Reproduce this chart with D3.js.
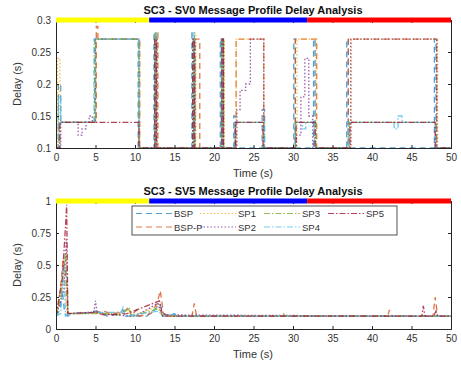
<!DOCTYPE html>
<html>
<head>
<meta charset="utf-8">
<script src="https://cdn.jsdelivr.net/npm/d3@7"></script>
<style>
  body { margin: 0; background: #fff; }
  text { font-family: "Liberation Sans", Arial, sans-serif; }
</style>
</head>
<body>
<div id="chart"></div>
<script>
// ---- data ----
const seriesNames = ['BSP', 'BSP-P', 'SP1', 'SP2', 'SP3', 'SP4', 'SP5']
const xTicks = [0, 5, 10, 15, 20, 25, 30, 35, 40, 45, 50]
const yTicksTop = [0.1, 0.15, 0.2, 0.25, 0.3]
const yTicksBottom = [0, 0.25, 0.5, 0.75, 1]
const phaseBreaks = [0, 11.8, 31.8, 50]

// SV0 (step series, [time, delay])
const sv0BSP = [[0,0.1],[0.3,0.2],[0.6,0.14],[4.9,0.27],[10.4,0.1],[12.4,0.28],[12.6,0.1],[17.2,0.28],[17.5,0.1],[20.8,0.27],[21.0,0.1],[22.5,0.15],[22.7,0.1],[26.1,0.16],[26.4,0.1],[30.1,0.27],[30.3,0.1],[32.6,0.27],[32.8,0.1],[36.8,0.27],[37.0,0.1],[47.9,0.27],[48.1,0.1],[50,0.1]]
const sv0BSPP = [[0,0.1],[0.4,0.14],[5.1,0.29],[5.3,0.27],[10.6,0.1],[12.7,0.28],[12.9,0.1],[17.6,0.27],[18.2,0.1],[21.0,0.27],[21.2,0.1],[22.8,0.27],[26.3,0.1],[30.3,0.27],[33.0,0.1],[37.0,0.27],[48.2,0.1],[50,0.1]]
const sv0SP1 = [[0,0.1],[0.2,0.24],[0.5,0.14],[5.0,0.27],[10.6,0.1],[12.6,0.28],[12.8,0.1],[17.5,0.28],[17.7,0.1],[21.1,0.27],[21.3,0.1],[22.8,0.27],[26.3,0.1],[30.5,0.27],[32.9,0.1],[37.4,0.27],[48.3,0.1],[50,0.1]]
const sv0SP2 = [[0,0.1],[0.6,0.14],[2.8,0.12],[3.3,0.13],[3.8,0.14],[4.2,0.15],[4.6,0.14],[5.0,0.27],[10.5,0.1],[12.6,0.27],[12.8,0.1],[17.4,0.27],[17.6,0.1],[21.0,0.27],[21.2,0.1],[22.9,0.16],[23.3,0.19],[24.0,0.2],[24.6,0.27],[26.3,0.1],[30.4,0.12],[31.0,0.18],[31.5,0.24],[32.0,0.15],[32.5,0.1],[37.3,0.27],[48.2,0.1],[50,0.1]]
const sv0SP3 = [[0,0.1],[0.4,0.14],[5.0,0.27],[10.5,0.1],[12.5,0.28],[12.7,0.1],[17.4,0.27],[17.6,0.1],[21.0,0.27],[21.2,0.1],[22.7,0.14],[26.3,0.1],[30.3,0.14],[32.9,0.1],[37.1,0.14],[48.1,0.1],[50,0.1]]
const sv0SP4 = [[0,0.1],[0.3,0.18],[0.6,0.14],[4.8,0.27],[10.5,0.1],[12.5,0.28],[12.7,0.1],[17.3,0.28],[17.5,0.1],[20.9,0.27],[21.1,0.1],[22.6,0.14],[26.2,0.14],[26.4,0.1],[30.3,0.14],[31.2,0.13],[31.6,0.14],[32.7,0.1],[37.0,0.14],[42.8,0.13],[43.3,0.15],[43.8,0.14],[48.0,0.1],[50,0.1]]
const sv0SP5 = [[0,0.1],[0.5,0.14],[10.5,0.1],[12.5,0.27],[12.7,0.1],[17.3,0.27],[17.5,0.1],[21.0,0.27],[21.2,0.1],[22.7,0.14],[26.2,0.1],[30.4,0.14],[32.8,0.1],[37.2,0.14],[48.0,0.1],[50,0.1]]

// SV5 ([time, delay])
const sv5BSP = [[0,0.1],[0.5,0.15],[0.8,0.3],[1.1,0.12],[1.5,0.1],[2,0.12],[4,0.13],[5,0.14],[6,0.12],[6.5,0.1],[8,0.12],[8.5,0.15],[8.8,0.1],[11.5,0.1],[12.5,0.15],[13.1,0.2],[13.6,0.12],[14.5,0.1],[15,0.12],[15.3,0.1],[50,0.1]]
const sv5BSPP = [[0,0.1],[0.4,0.2],[0.9,0.55],[1.2,0.45],[1.5,0.12],[3,0.12],[5,0.13],[6,0.14],[7,0.12],[8.5,0.13],[9.2,0.17],[9.5,0.1],[10.2,0.15],[10.5,0.1],[12,0.12],[12.8,0.2],[13.2,0.3],[13.6,0.12],[14.5,0.1],[17.2,0.1],[17.5,0.2],[17.8,0.1],[42,0.1],[42.2,0.15],[42.4,0.1],[47.7,0.1],[48,0.25],[48.3,0.1],[50,0.1]]
const sv5SP1 = [[0,0.1],[0.6,0.25],[1.0,0.4],[1.4,0.12],[3,0.13],[5,0.13],[7,0.12],[9.3,0.15],[9.6,0.1],[13,0.18],[13.5,0.1],[50,0.1]]
const sv5SP2 = [[0,0.1],[1.0,0.3],[1.3,0.7],[1.5,0.12],[4.8,0.13],[5,0.22],[5.2,0.13],[7,0.11],[10,0.1],[12.9,0.2],[13.4,0.11],[50,0.1]]
const sv5SP3 = [[0,0.1],[0.7,0.3],[1.2,0.6],[1.5,0.12],[6,0.12],[8,0.11],[9.3,0.16],[9.6,0.1],[13,0.16],[13.5,0.1],[28.6,0.1],[28.8,0.12],[29,0.1],[50,0.1]]
const sv5SP4 = [[0,0.1],[0.6,0.12],[1.0,0.5],[1.2,0.1],[1.6,0.12],[5,0.13],[8.3,0.13],[8.5,0.18],[8.7,0.1],[13,0.14],[13.5,0.1],[15,0.12],[15.2,0.1],[50,0.1]]
const sv5SP5 = [[0,0.1],[0.8,0.4],[1.2,0.8],[1.35,0.97],[1.5,0.12],[5,0.13],[6,0.11],[9,0.12],[13.1,0.22],[13.5,0.1],[46.3,0.1],[46.5,0.18],[46.7,0.1],[47.8,0.1],[48.1,0.14],[48.3,0.1],[50,0.1]]

// ---- styles ----
const colors = ['#2a86c4', '#D95319', '#EDB120', '#7E2F8E', '#77AC30', '#4DBEEE', '#A2142F']
const dashes = ['6,4', '6,4', '1.5,2', '1.5,2', '6,2,1.5,2', '6,2,1.5,2', '6,2,1.5,2']
const phaseColors = ['#ffff00', '#0000ff', '#ff0000']

const W = 461, H = 366
const svg = d3.select('#chart').append('svg').attr('width', W).attr('height', H)

function drawPanel(cfg) {
  const x = d3.scaleLinear().domain([0, 50]).range([56, 451])
  const y = d3.scaleLinear().domain(cfg.yDomain).range([cfg.bottom, cfg.top])
  const g = svg.append('g')
  const clipId = 'clip' + cfg.id
  svg.append('clipPath').attr('id', clipId)
    .append('rect').attr('x', 56).attr('y', cfg.top).attr('width', 395).attr('height', cfg.bottom - cfg.top)

  const line = d3.line().x(d => x(d[0])).y(d => y(d[1])).curve(cfg.curve)
  const lines = g.append('g').attr('clip-path', 'url(#' + clipId + ')')
  cfg.series.forEach((s, i) => {
    lines.append('path').datum(s)
      .attr('d', line)
      .attr('fill', 'none')
      .attr('stroke', colors[i])
      .attr('stroke-opacity', 0.8)
      .attr('stroke-width', 1.3)
      .attr('stroke-dasharray', dashes[i])
  })

  // axes, matlab style box
  g.append('g').attr('transform', 'translate(0,' + cfg.bottom + ')')
    .call(d3.axisBottom(x).tickValues(xTicks).tickSize(-3).tickPadding(6))
  g.append('g').attr('transform', 'translate(56,0)')
    .call(d3.axisLeft(y).tickValues(cfg.yTicks).tickSize(-3).tickPadding(5).tickFormat(d => String(d)))
  g.append('g').attr('transform', 'translate(451,0)')
    .call(d3.axisRight(y).tickValues(cfg.yTicks).tickSize(-3).tickFormat(''))
  g.append('g').attr('transform', 'translate(0,' + cfg.top + ')')
    .call(d3.axisTop(x).tickValues(xTicks).tickSize(-3).tickFormat(''))
  g.selectAll('.domain').attr('stroke', '#262626')
  g.selectAll('.tick line').attr('stroke', '#262626')
  g.selectAll('.tick text').attr('fill', '#333').style('font-size', '10px')
    .style('font-family', '"Liberation Sans", Arial, sans-serif')

  // phase bar along the top
  for (let i = 0; i < phaseColors.length; i++) {
    g.append('line')
      .attr('x1', x(phaseBreaks[i])).attr('x2', x(phaseBreaks[i + 1]))
      .attr('y1', cfg.top).attr('y2', cfg.top)
      .attr('stroke', phaseColors[i]).attr('stroke-width', 5)
  }

  g.append('text').attr('x', 253).attr('y', cfg.top - 6)
    .attr('text-anchor', 'middle').style('font-size', '11px').style('font-weight', 'bold')
    .attr('fill', '#111').text(cfg.title)
  g.append('text').attr('x', 253).attr('y', cfg.bottom + 29)
    .attr('text-anchor', 'middle').style('font-size', '11px').attr('fill', '#333').text('Time (s)')
  g.append('text').attr('transform', 'translate(21,' + (cfg.top + cfg.bottom) / 2 + ') rotate(-90)')
    .attr('text-anchor', 'middle').style('font-size', '11px').attr('fill', '#333').text('Delay (s)')
  return g
}

drawPanel({
  id: 'top', top: 20, bottom: 148, yDomain: [0.1, 0.3], yTicks: yTicksTop,
  curve: d3.curveStepAfter, title: 'SC3 - SV0 Message Profile Delay Analysis',
  series: [sv0BSP, sv0BSPP, sv0SP1, sv0SP2, sv0SP3, sv0SP4, sv0SP5]
})

const bottomPanel = drawPanel({
  id: 'bottom', top: 201, bottom: 329, yDomain: [0, 1], yTicks: yTicksBottom,
  curve: d3.curveLinear, title: 'SC3 - SV5 Message Profile Delay Analysis',
  series: [sv5BSP, sv5BSPP, sv5SP1, sv5SP2, sv5SP3, sv5SP4, sv5SP5]
})

// legend
const lg = bottomPanel.append('g')
lg.append('rect').attr('x', 132).attr('y', 206).attr('width', 265).attr('height', 29)
  .attr('fill', '#fff').attr('stroke', '#262626').attr('stroke-width', 0.8)
seriesNames.forEach((name, i) => {
  const col = Math.floor(i / 2), row = i % 2
  const lx = 136 + col * 64, ly = 213.5 + row * 13.5
  lg.append('line').attr('x1', lx).attr('x2', lx + 36).attr('y1', ly).attr('y2', ly)
    .attr('stroke', colors[i]).attr('stroke-opacity', 0.8).attr('stroke-width', 1.2)
    .attr('stroke-dasharray', dashes[i])
  lg.append('text').attr('x', lx + 38).attr('y', ly + 3.5)
    .style('font-size', '9.5px').attr('fill', '#333').text(name)
})
</script>
</body>
</html>
